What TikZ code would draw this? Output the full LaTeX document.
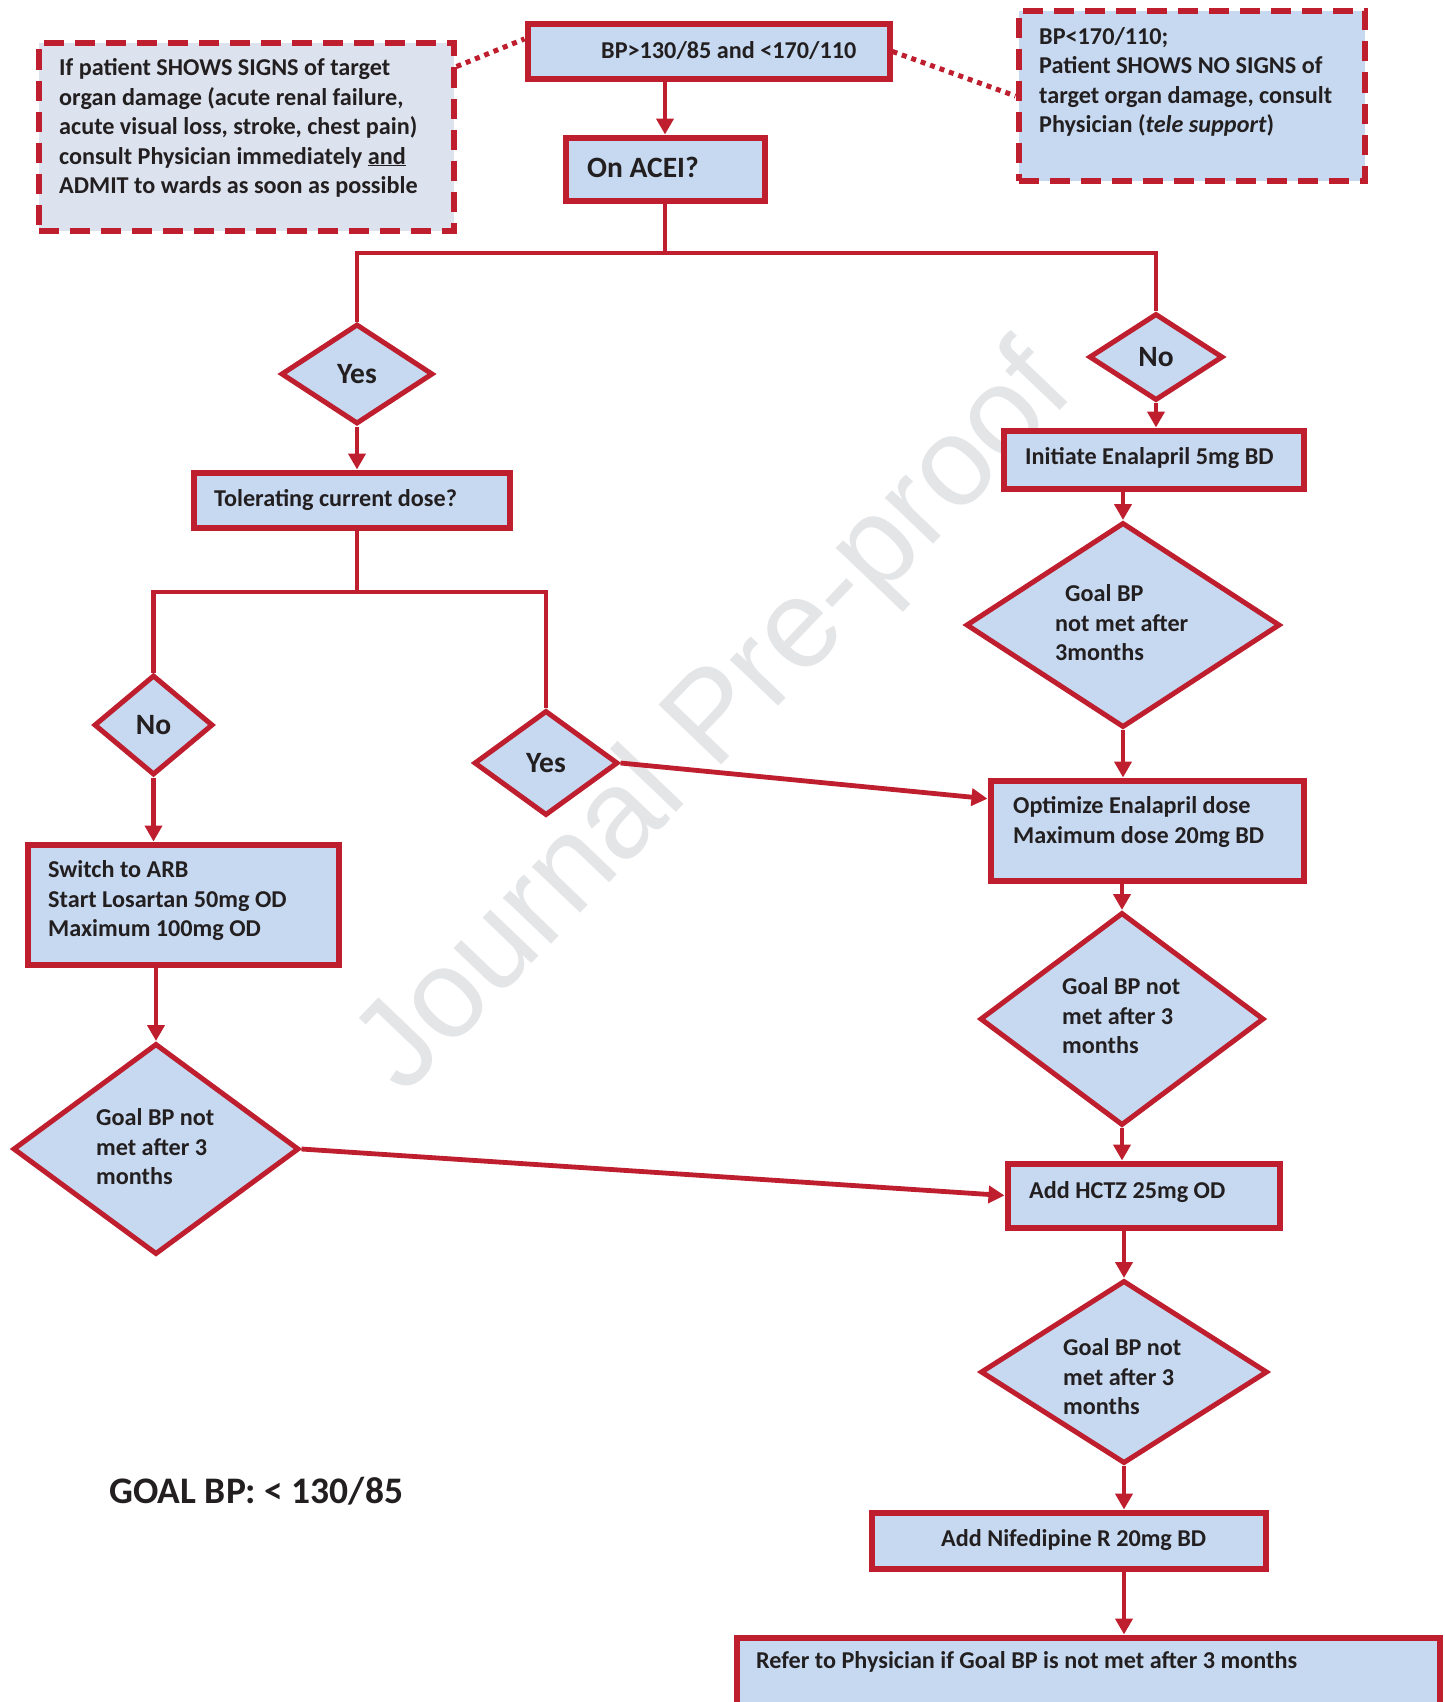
\documentclass[tikz,border=0pt]{standalone}
\usepackage{fontspec}
\setmainfont{Carlito}
\newfontfamily\wmfont{Liberation Sans}
\usetikzlibrary{shapes.geometric,arrows.meta,calc}
\definecolor{bred}{HTML}{BE1E2D}
\definecolor{bfill}{HTML}{C6D9F0}
\definecolor{gfill}{HTML}{DCE3EE}
\definecolor{tdark}{HTML}{231F20}
\definecolor{wmgray}{HTML}{E4E5E7}
\begin{document}
\begin{tikzpicture}[x=1pt,y=-1pt,
  box/.style={draw=bred, line width=6pt, fill=bfill, rectangle, inner sep=0pt},
  dbox/.style={box, dash pattern=on 20pt off 11pt},
  dia/.style={draw=bred, line width=5pt, fill=bfill, diamond, inner sep=0pt, text=tdark, font=\fontsize{29.5}{31}\selectfont\bfseries},
  txt/.style={anchor=west, align=left, inner sep=0pt, text=tdark, font=\fontsize{24.2}{29.5}\selectfont\bfseries},
  conn/.style={draw=bred, line width=4.8pt},
  arr/.style={conn, -{Triangle[length=16pt,width=17pt]}},
  dots/.style={draw=bred, line width=5pt, dash pattern=on 5pt off 5pt},
]
\useasboundingbox (0,0) rectangle (1445,1702);
\fill[white] (0,0) rectangle (1445,1702);
\clip (0,0) rectangle (1445,1702);

% watermark
\node[rotate=46.3, anchor=base, inner sep=0pt, text=wmgray, font=\wmfont\fontsize{126}{126}\selectfont] (wm) at (741,745) {Journal Pre-proof};

% boxes
\node[dbox, fill=gfill, minimum width=415pt, minimum height=187pt] (ldash) at (246,137) {};
\node[dbox, minimum width=346pt, minimum height=169pt] (rdash) at (1191.5,96) {};
\node[box, minimum width=362pt, minimum height=54pt] (topbox) at (708.5,51.5) {};
\node[box, minimum width=199pt, minimum height=63pt] (acei) at (665,169) {};
\node[box, minimum width=316pt, minimum height=55pt] (tol) at (351.5,500) {};
\node[box, minimum width=300pt, minimum height=58pt] (init) at (1153.5,459.5) {};
\node[box, minimum width=313pt, minimum height=100pt] (opt) at (1147,830.5) {};
\node[box, minimum width=311pt, minimum height=120pt] (sw) at (183,904.5) {};
\node[box, minimum width=272pt, minimum height=64pt] (hctz) at (1143.5,1195.5) {};
\node[box, minimum width=394pt, minimum height=56pt] (nif) at (1068.5,1540.5) {};
\node[box, anchor=north west, minimum width=703pt, minimum height=150pt] (refer) at (733.5,1634.5) {};

% diamonds
\node[dia, minimum width=152pt, minimum height=100pt] (yes1) at (357,374) {Yes};
\node[dia, minimum width=134pt, minimum height=87pt] (no1) at (1156,357) {No};
\node[dia, minimum width=119pt, minimum height=100pt] (no2) at (153.5,725) {No};
\node[dia, minimum width=144pt, minimum height=105pt] (yes2) at (546,763) {Yes};
\node[dia, minimum width=314pt, minimum height=205pt] (goal1) at (1123,625) {};
\node[dia, minimum width=284pt, minimum height=213pt] (goal2) at (1122,1019) {};
\node[dia, minimum width=287pt, minimum height=183pt] (goal3) at (1124,1372) {};
\node[dia, minimum width=286pt, minimum height=211pt] (goalL) at (156,1149) {};

% texts
\node[txt] (tL) at (59,128) {If patient SHOWS SIGNS of target\\organ damage (acute renal failure,\\acute visual loss, stroke, chest pain)\\consult Physician immediately \underline{and}\\ADMIT to wards as soon as possible};
\node[txt] (tR) at (1039,82) {BP<170/110;\\Patient SHOWS NO SIGNS of\\target organ damage, consult\\Physician (\textit{tele support})};
\node[txt] (tTop) at (601,51) {BP>130/85 and <170/110};
\node[txt, font=\fontsize{29.5}{31}\selectfont\bfseries] (tAcei) at (587,167) {On ACEI?};
\node[txt] (tTol) at (214,500) {Tolerating current dose?};
\node[txt] (tInit) at (1025,458) {Initiate Enalapril 5mg BD};
\node[txt] (tG1) at (1055,623) {\hspace*{10pt}Goal BP\\not met after\\3months};
\node[txt] (tOpt) at (1013,822) {Optimize Enalapril dose\\Maximum dose 20mg BD};
\node[txt] (tSw) at (48,901) {Switch to ARB\\Start Losartan 50mg OD\\Maximum 100mg OD};
\node[txt] (tGL) at (96,1147) {Goal BP not\\met after 3\\months};
\node[txt] (tG2) at (1062,1016) {Goal BP not\\met after 3\\months};
\node[txt] (tHctz) at (1029,1192) {Add HCTZ 25mg OD};
\node[txt] (tG3) at (1063,1377) {Goal BP not\\met after 3\\months};
\node[txt] (tNif) at (941,1540) {Add Nifedipine R 20mg BD};
\node[txt] (tRef) at (756,1662) {Refer to Physician if Goal BP is not met after 3 months};
\node[txt, font=\fontsize{37.5}{40}\selectfont\bfseries] (tGoal) at (109,1491) {GOAL BP: < 130/85};

% dotted links
\draw[dots] ($(ldash.north east)!0.135!(ldash.south east)$) -- ($(topbox.north west)!0.29!(topbox.south west)$);
\draw[dots] (topbox.east) -- (rdash.west);

% splits
\draw[conn] (acei.south) -- (acei.south |- 0,253);
\draw[conn] (yes1.north) |- (acei.south |- 0,253) -| (no1.north);
\draw[conn] (tol.south -| yes1.south) -- (yes1.south |- 0,592);
\draw[conn] (no2.north) |- (yes1.south |- 0,592) -| (yes2.north);

% arrows
\draw[arr] (topbox.south -| acei.north) -- (acei.north);
\draw[arr] (yes1.south) -- (yes1.south |- tol.north);
\draw[arr] (no1.south) -- (no1.south |- init.north);
\draw[arr] (no2.south) -- (no2.south |- sw.north);
\draw[arr] (yes2.east) -- ($(opt.north west)!0.2!(opt.south west)$);
\draw[arr] (sw.south -| goalL.north) -- (goalL.north);
\draw[arr] (goalL.east) -- (hctz.west);
\draw[arr] (init.south -| goal1.north) -- (goal1.north);
\draw[arr] (goal1.south) -- (goal1.south |- opt.north);
\draw[arr] (opt.south -| goal2.north) -- (goal2.north);
\draw[arr] (goal2.south) -- (goal2.south |- hctz.north);
\draw[arr] (hctz.south -| goal3.north) -- (goal3.north);
\draw[arr] (goal3.south) -- (goal3.south |- nif.north);
\draw[arr] (goal3.south |- nif.south) -- (goal3.south |- refer.north);
\end{tikzpicture}
\end{document}
